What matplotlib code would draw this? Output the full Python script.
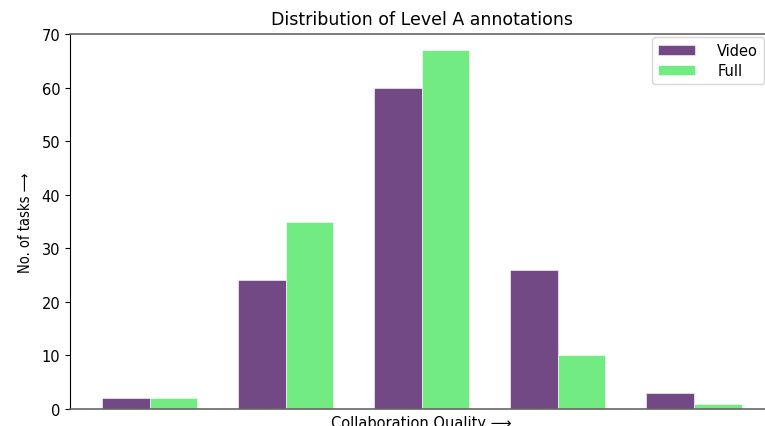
import matplotlib

matplotlib.use("Agg")

import numpy as np
import matplotlib.pyplot as plt

groups = np.arange(5)
video = [2, 24, 60, 26, 3]
full = [2, 35, 67, 10, 1]
labels = ["Video", "Full"]

width = 0.35

fig = plt.figure(figsize=(7.65, 4.27), dpi=100)
ax = fig.add_axes([70 / 765, 17 / 427, 703.5 / 765, 375 / 427])

ax.bar(groups - width / 2, video, width, color="#734985", edgecolor="white",
       linewidth=0.4, label=labels[0])
ax.bar(groups + width / 2, full, width, color="#72eb83", edgecolor="white",
       linewidth=0.4, label=labels[1])

ax.set_ylim(0, 70)
ax.set_xticks([])
ax.tick_params(axis="y", labelsize=10.5)
for s in ["top", "bottom"]:
    ax.spines[s].set_color("#666666")
    ax.spines[s].set_linewidth(1.2)
ax.spines["right"].set_color("#666666")

ax.set_title("Distribution of Level A annotations", fontsize=12.5, pad=7)
ax.set_xlabel("Collaboration Quality ⟶", fontsize=10.5, labelpad=4)
ax.set_ylabel("No. of tasks ⟶", fontsize=10.5, fontstretch="condensed", labelpad=6)
ax.legend(loc="upper right", fontsize=10.5, handlelength=2.6, handletextpad=1.5,
          bbox_to_anchor=(764 / 765, 1 - 38 / 427), bbox_transform=fig.transFigure,
          borderaxespad=0, labelspacing=0.35)

fig.savefig("out.png")
plt.close()
